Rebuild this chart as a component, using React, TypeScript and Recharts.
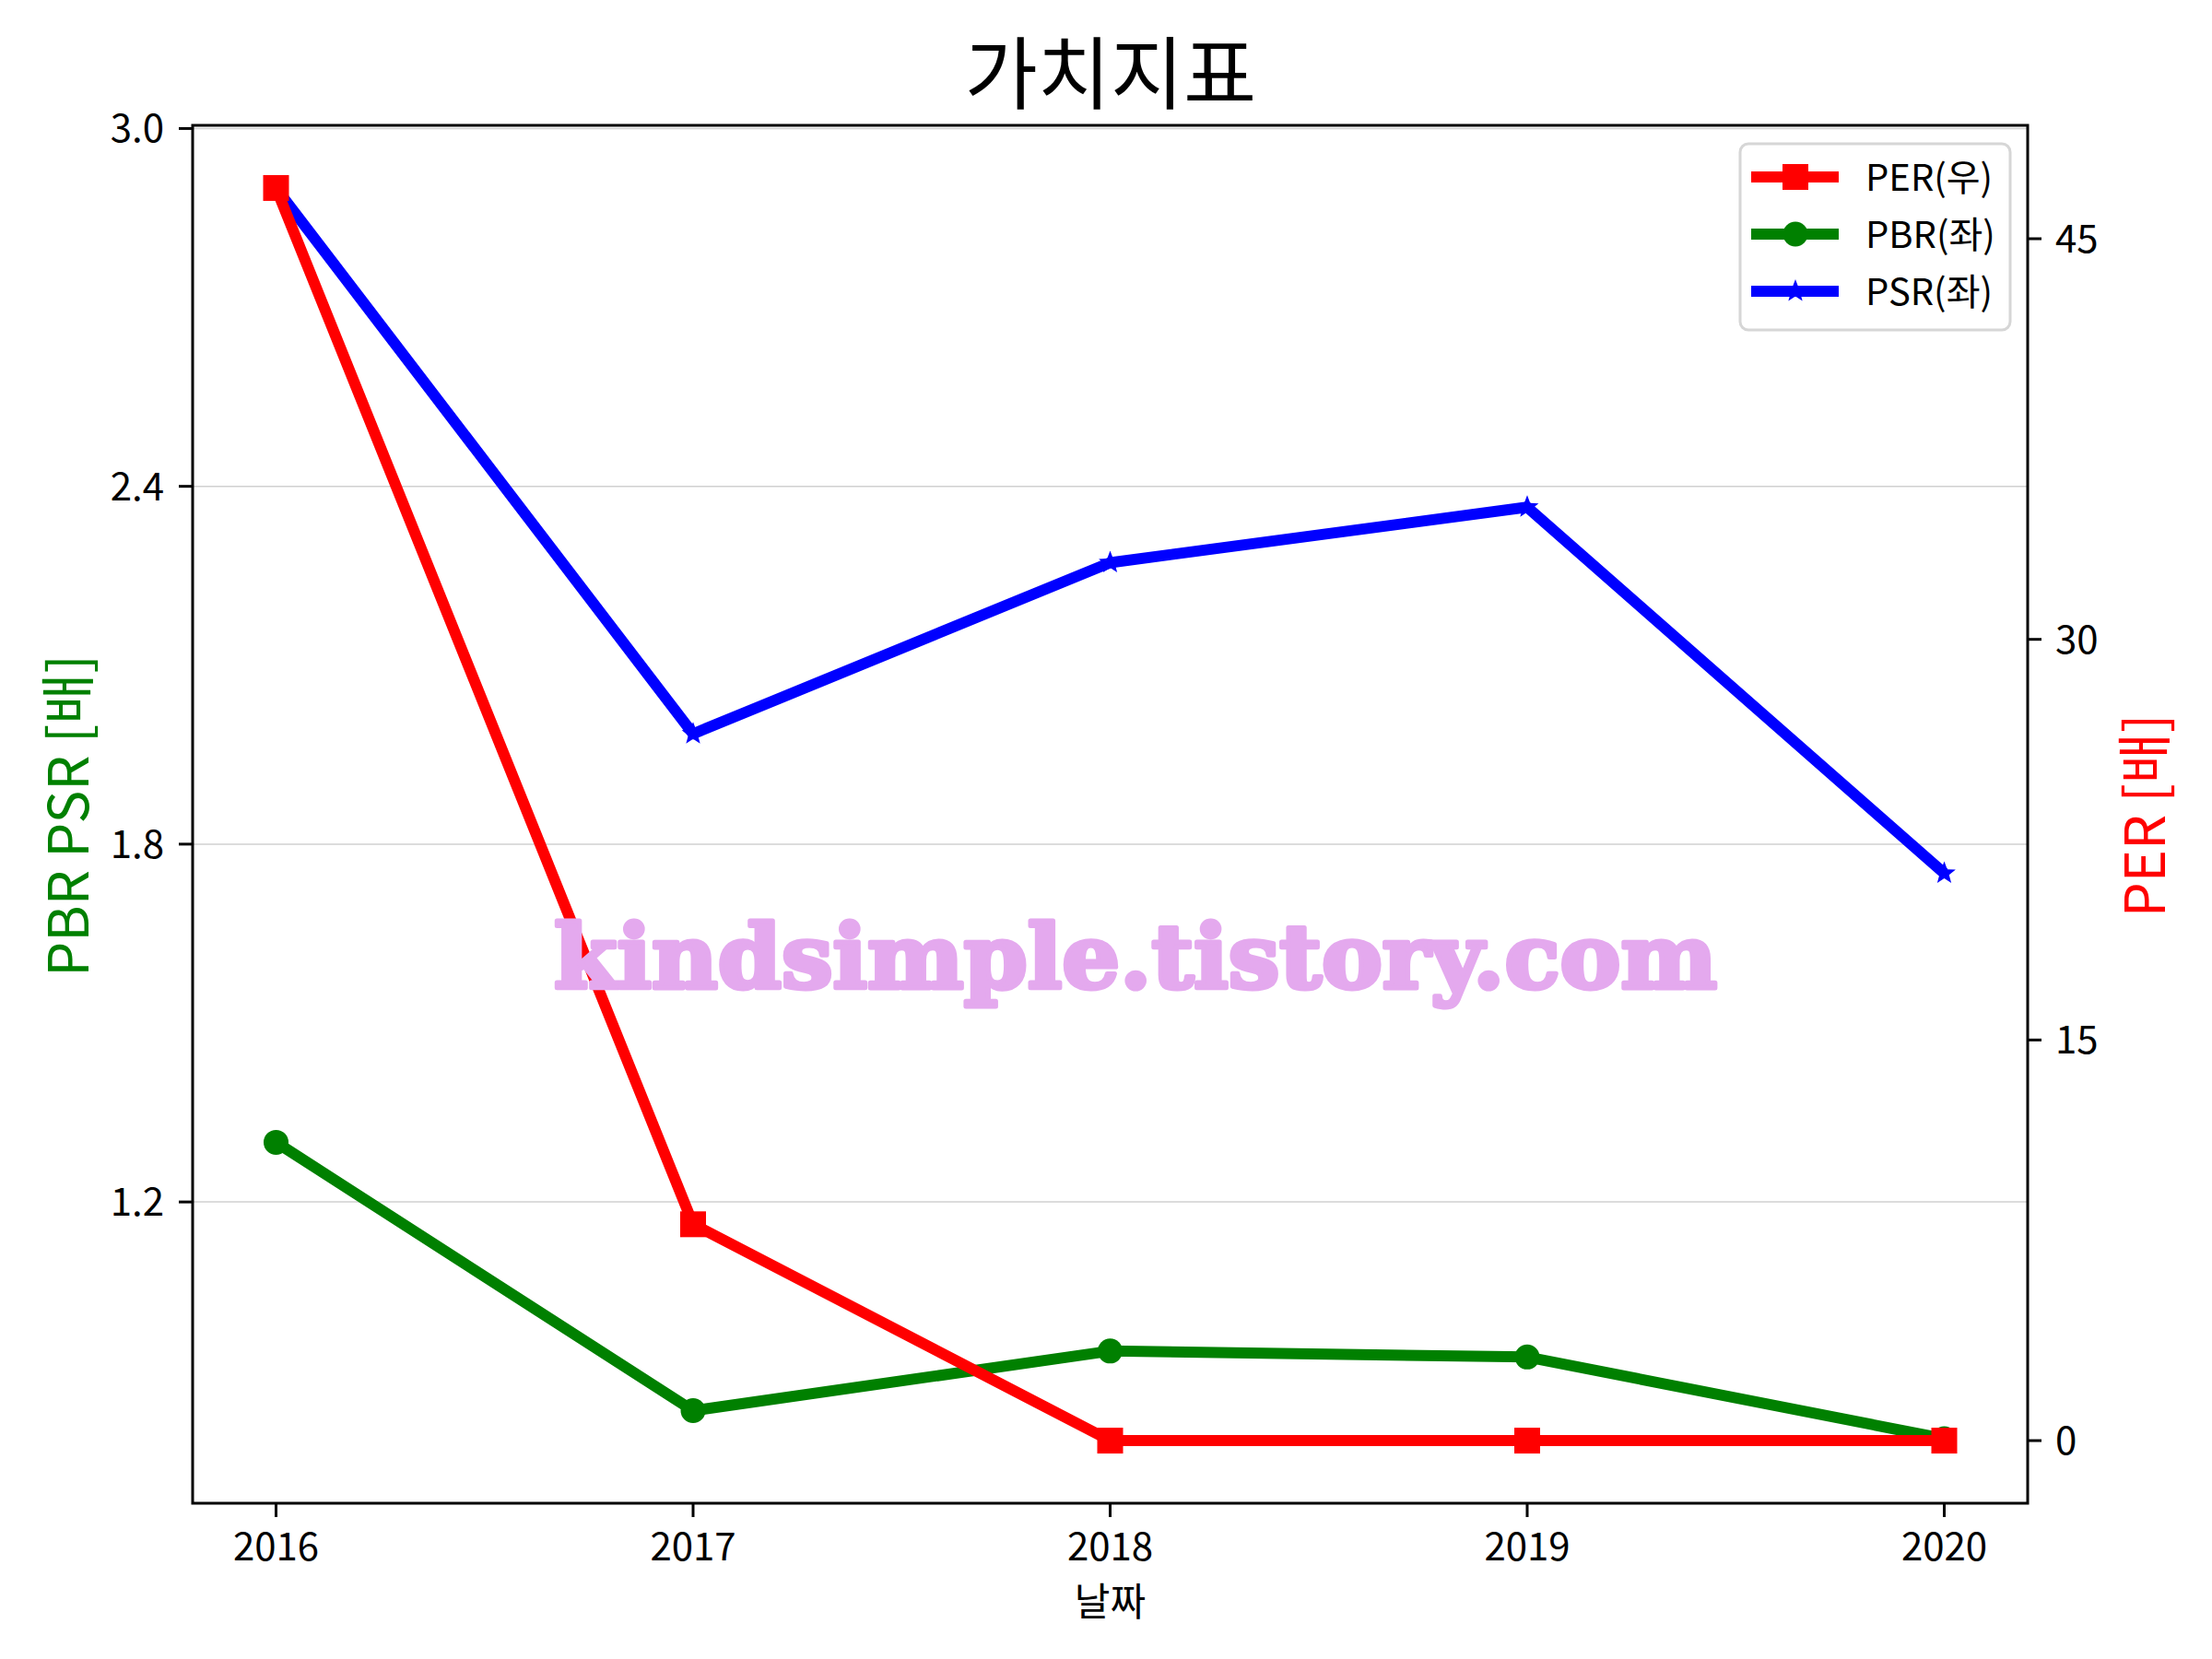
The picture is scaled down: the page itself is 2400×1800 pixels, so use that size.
import React from 'react'
import { LineChart, Line, XAxis, YAxis, CartesianGrid } from 'recharts'

const years = [2016, 2017, 2018, 2019, 2020]
const perValues = [46.9, 8.1, 0, 0, 0]
const pbrValues = [1.3, 0.85, 0.95, 0.94, 0.803]
const psrValues = [2.9, 1.985, 2.272, 2.365, 1.751]

const xTicks = [2016, 2017, 2018, 2019, 2020]
const leftTicks = [1.2, 1.8, 2.4, 3.0]
const rightTicks = [0, 15, 30, 45]

const seriesNames = ['PER(우)', 'PBR(좌)', 'PSR(좌)']

const data = years.map((year, i) => ({
  year,
  per: perValues[i],
  pbr: pbrValues[i],
  psr: psrValues[i],
}))

const FONT = '"Noto Sans CJK KR", "Noto Sans", sans-serif'
const W = 2400
const H = 1800
// plot frame
const PL = 209
const PR = 2200
const PT = 136
const PB = 1631

const starPoints = (cx: number, cy: number, ro: number, ri: number) => {
  const pts: string[] = []
  for (let k = 0; k < 10; k++) {
    const r = k % 2 === 0 ? ro : ri
    const a = -Math.PI / 2 + (k * Math.PI) / 5
    pts.push(`${cx + r * Math.cos(a)},${cy + r * Math.sin(a)}`)
  }
  return pts.join(' ')
}

const squareDot = (p: any) => (
  <rect key={`sq-${p.index}`} x={p.cx - 14} y={p.cy - 14} width={28} height={28} fill="#ff0000" />
)
const circleDot = (p: any) => <circle key={`ci-${p.index}`} cx={p.cx} cy={p.cy} r={13.5} fill="#008000" />
const starDot = (p: any) => (
  <polygon key={`st-${p.index}`} points={starPoints(p.cx, p.cy, 13, 5.5)} fill="#0000ff" />
)

const tickStyle = { fontSize: 42, fill: '#000', fontFamily: FONT }

export default function App() {
  const legendRows = [
    { name: seriesNames[0], color: '#ff0000', kind: 'square' },
    { name: seriesNames[1], color: '#008000', kind: 'circle' },
    { name: seriesNames[2], color: '#0000ff', kind: 'star' },
  ]
  return (
    <div style={{ position: 'relative', width: W, height: H, background: '#fff' }}>
      <style>{'body{margin:0}'}</style>
      <LineChart width={W} height={H} data={data} margin={{ top: PT, right: 0, bottom: 0, left: 0 }}>
        <CartesianGrid yAxisId="left" vertical={false} stroke="#d0d0d0" strokeWidth={1.5} />
        <XAxis
          dataKey="year"
          type="number"
          domain={[2015.8, 2020.2]}
          ticks={xTicks}
          allowDataOverflow
          height={H - PB}
          axisLine={false}
          tickLine={{ stroke: '#000', strokeWidth: 3 }}
          tickSize={15}
          tickMargin={17}
          tick={tickStyle}
        />
        <YAxis
          yAxisId="left"
          domain={[0.6948, 3.0053]}
          ticks={leftTicks}
          allowDataOverflow
          width={PL}
          axisLine={false}
          tickLine={{ stroke: '#000', strokeWidth: 3 }}
          tickSize={15}
          tickMargin={16}
          tick={tickStyle}
          tickFormatter={(v: number) => v.toFixed(1)}
        />
        <YAxis
          yAxisId="right"
          orientation="right"
          domain={[-2.345, 49.245]}
          ticks={rightTicks}
          allowDataOverflow
          width={W - PR}
          axisLine={false}
          tickLine={{ stroke: '#000', strokeWidth: 3 }}
          tickSize={15}
          tickMargin={15}
          tick={tickStyle}
        />
        <Line
          yAxisId="left"
          dataKey="pbr"
          type="linear"
          stroke="#008000"
          strokeWidth={12}
          strokeLinejoin="round"
          dot={circleDot}
          activeDot={false}
          isAnimationActive={false}
        />
        <Line
          yAxisId="left"
          dataKey="psr"
          type="linear"
          stroke="#0000ff"
          strokeWidth={12}
          strokeLinejoin="round"
          dot={starDot}
          activeDot={false}
          isAnimationActive={false}
        />
        <Line
          yAxisId="right"
          dataKey="per"
          type="linear"
          stroke="#ff0000"
          strokeWidth={12}
          strokeLinejoin="round"
          dot={squareDot}
          activeDot={false}
          isAnimationActive={false}
        />
      </LineChart>
      <svg
        width={W}
        height={H}
        style={{ position: 'absolute', left: 0, top: 0, pointerEvents: 'none' }}
      >
        <rect x={PL} y={PT} width={PR - PL} height={PB - PT} fill="none" stroke="#000" strokeWidth={3} />
        <text x={1205} y={74} textAnchor="middle" dominantBaseline="central" fontSize={86} fontFamily={FONT} fill="#000">
          가치지표
        </text>
        <text x={(PL + PR) / 2} y={1734} textAnchor="middle" dominantBaseline="central" fontSize={42} fontFamily={FONT} fill="#000">
          날짜
        </text>
        <text
          x={69}
          y={885}
          textAnchor="middle"
          dominantBaseline="central"
          fontSize={60}
          fontFamily={FONT}
          fill="#008000"
          transform="rotate(-90 69 885)"
        >
          PBR PSR [배]
        </text>
        <text
          x={2322}
          y={885}
          textAnchor="middle"
          dominantBaseline="central"
          fontSize={60}
          fontFamily={FONT}
          fill="#ff0000"
          transform="rotate(-90 2322 885)"
        >
          PER [배]
        </text>
        <text
          x={1232}
          y={1072}
          textAnchor="middle"
          fontSize={96}
          fontWeight="bold"
          fontFamily='"DejaVu Serif", serif'
          fill="#e4a9ee"
          stroke="#e4a9ee"
          strokeWidth={5}
          strokeLinejoin="round"
          textLength={1262}
          lengthAdjust="spacingAndGlyphs"
        >
          kindsimple.tistory.com
        </text>
        <rect x={1888} y={156} width={293} height={202} rx={9} fill="#fff" fillOpacity={0.8} stroke="#d6d6d6" strokeWidth={3} />
        {legendRows.map((r, i) => {
          const cy = 192 + i * 62
          return (
            <g key={r.name}>
              <line x1={1900} x2={1995} y1={cy} y2={cy} stroke={r.color} strokeWidth={12} />
              {r.kind === 'square' && <rect x={1934} y={cy - 14} width={28} height={28} fill={r.color} />}
              {r.kind === 'circle' && <circle cx={1948} cy={cy} r={13.5} fill={r.color} />}
              {r.kind === 'star' && <polygon points={starPoints(1948, cy, 13, 5.5)} fill={r.color} />}
              <text x={2024} y={cy - 2} dominantBaseline="central" fontSize={40} fontFamily={FONT} fill="#000">
                {r.name}
              </text>
            </g>
          )
        })}
      </svg>
    </div>
  )
}
